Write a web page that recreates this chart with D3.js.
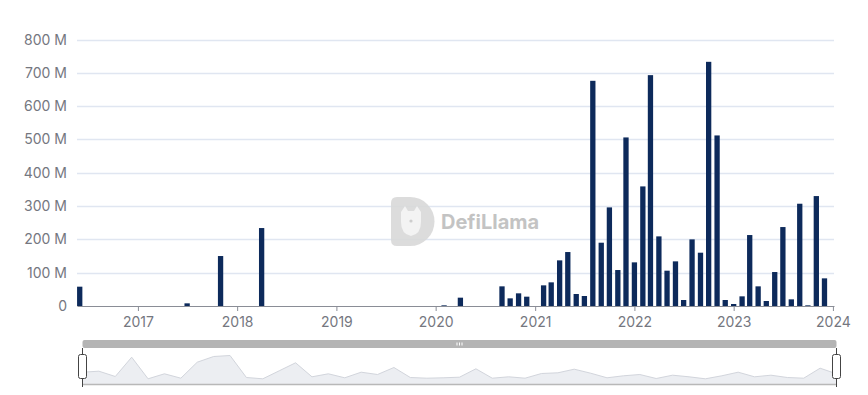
<!DOCTYPE html>
<html>
<head>
<meta charset="utf-8">
<script src="https://cdn.jsdelivr.net/npm/d3@7"></script>
<style>
  body { margin: 0; background: #fff; }
  svg { display: block; font-family: Inter, "Noto Sans", sans-serif; }
</style>
</head>
<body>
<svg id="chart" width="868" height="395"></svg>
<script>
// monthly values (USD), months with nothing are left out
const months = [
  "2016-06", "2017-07", "2017-11", "2018-04",
  "2020-02", "2020-04", "2020-09", "2020-10", "2020-11", "2020-12",
  "2021-02", "2021-03", "2021-04", "2021-05", "2021-06", "2021-07", "2021-08", "2021-09",
  "2021-10", "2021-11", "2021-12", "2022-01", "2022-02", "2022-03", "2022-04", "2022-05",
  "2022-06", "2022-07", "2022-08", "2022-09", "2022-10", "2022-11", "2022-12", "2023-01",
  "2023-02", "2023-03", "2023-04", "2023-05", "2023-06", "2023-07", "2023-08", "2023-09",
  "2023-10", "2023-11", "2023-12"
];
const values = [
  58e6, 8e6, 150e6, 234e6,
  2e6, 25e6, 59e6, 23e6, 38e6, 28e6,
  62e6, 71e6, 137e6, 162e6, 36e6, 30e6, 676e6, 190e6,
  296e6, 108e6, 506e6, 131e6, 359e6, 693e6, 209e6, 106e6,
  134e6, 18e6, 200e6, 160e6, 733e6, 512e6, 18e6, 6e6,
  29e6, 213e6, 59e6, 15e6, 102e6, 237e6, 20e6, 307e6,
  2e6, 330e6, 83e6
];
const yTicks = [0, 100e6, 200e6, 300e6, 400e6, 500e6, 600e6, 700e6, 800e6];
const xTickYears = [2017, 2018, 2019, 2020, 2021, 2022, 2023, 2024];
// slider preview line, relative heights
const shadowValues = [
  12.3, 13.3, 8, 27.3, 5.7, 10.7, 6.3, 22.3, 28, 29, 7, 5.7, 13.7, 21.7, 7.7, 10.7,
  6.7, 12.3, 10, 17, 7, 6.3, 6.7, 7.3, 15.7, 6.3, 7.7, 6.3, 11, 11.7, 15.3, 11.3,
  6.7, 8.7, 10, 6, 9.3, 7.7, 5.7, 8.7, 12.3, 7.7, 9.3, 7, 6.3, 16.3, 10.7
];

const svg = d3.select("#chart");
const margin = { top: 39.5, left: 77, right: 34, bottom: 89 };
const W = 868, H = 395;

const data = months.map((m, i) => ({ date: d3.utcParse("%Y-%m")(m), value: values[i] }));

const x = d3.scaleUtc()
  .domain([new Date(Date.UTC(2016, 4, 22)), new Date(Date.UTC(2024, 0, 5))])
  .range([margin.left, W - margin.right]);
const y = d3.scaleLinear()
  .domain([0, 800e6])
  .range([H - margin.bottom, margin.top]);

// grid + y labels
svg.append("g")
  .selectAll("line")
  .data(yTicks.slice(1))
  .enter()
  .append("line")
  .attr("x1", margin.left)
  .attr("x2", W - margin.right)
  .attr("y1", d => Math.round(y(d)) + 0.5)
  .attr("y2", d => Math.round(y(d)) + 0.5)
  .attr("stroke", "#e0e6f1")
  .attr("stroke-width", 1.5);

svg.append("g")
  .selectAll("text")
  .data(yTicks)
  .enter()
  .append("text")
  .attr("x", 67)
  .attr("y", d => y(d))
  .attr("dy", "0.36em")
  .attr("text-anchor", "end")
  .attr("fill", "#75777f")
  .style("font-size", "14px")
  .text(d => (d === 0 ? "0" : d / 1e6 + " M"));

// watermark
const wm = svg.append("g").attr("opacity", 0.9);
wm.append("path")
  .attr("d", "M391,203 q0,-6 6,-6 h13 a24.5 24.5 0 0 1 0 49 h-13 q-6,0 -6,-6 z")
  .attr("fill", "#d9d9d9");
wm.append("path")
  .attr("d", "M401,212 l4,-6 l3,5 h6 l3,-5 l4,6 v10 q0,12 -10,14 q-10,-2 -10,-14 z")
  .attr("fill", "#f2f2f2");
wm.append("circle").attr("cx", 411).attr("cy", 221).attr("r", 1.6).attr("fill", "#c8c8c8");
wm.append("text")
  .attr("x", 441)
  .attr("y", 229)
  .attr("fill", "#bdbdbd")
  .style("font-size", "20px")
  .style("font-weight", "700")
  .text("DefiLlama");

// bars
const barW = 5.3;
svg.append("g")
  .selectAll("rect")
  .data(data)
  .enter()
  .append("rect")
  .attr("x", d => Math.max(margin.left, x(d.date) - barW / 2))
  .attr("width", d => x(d.date) + barW / 2 - Math.max(margin.left, x(d.date) - barW / 2))
  .attr("y", d => y(d.value))
  .attr("height", d => y(0) - y(d.value))
  .attr("fill", "#0d2a5b");

// x axis
const xAxis = d3.axisBottom(x)
  .tickValues(xTickYears.map(yr => new Date(Date.UTC(yr, 0, 1))))
  .tickFormat(d3.utcFormat("%Y"))
  .tickSizeInner(5)
  .tickSizeOuter(0)
  .tickPadding(6);
const gx = svg.append("g")
  .attr("transform", `translate(0,${y(0)})`)
  .call(xAxis);
gx.select(".domain").attr("stroke", "#8a8d96");
gx.selectAll(".tick line").attr("stroke", "#8a8d96");
gx.selectAll(".tick text")
  .attr("fill", "#75777f")
  .style("font-size", "14px")
  .style("font-family", "Inter, sans-serif");

// slider
const sl = { x0: 82.5, x1: 836.5, top: 348, bottom: 384.5 };
svg.append("rect")
  .attr("x", sl.x0).attr("y", 340)
  .attr("width", sl.x1 - sl.x0).attr("height", 8)
  .attr("rx", 2)
  .attr("fill", "#b4b4b4");
svg.append("g")
  .selectAll("rect")
  .data([0, 1, 2])
  .enter()
  .append("rect")
  .attr("x", i => 456.5 + i * 2.5)
  .attr("y", 342.5)
  .attr("width", 1)
  .attr("height", 3)
  .attr("fill", "#fff");

const sx = d3.scaleLinear().domain([0, shadowValues.length - 1]).range([sl.x0, sl.x1]);
const sy = d3.scaleLinear().domain([0, 36]).range([sl.bottom, sl.bottom - 36]);
svg.append("path")
  .datum(shadowValues)
  .attr("d", d3.area().x((d, i) => sx(i)).y0(sl.bottom).y1(d => sy(d)))
  .attr("fill", "#eceef2");
svg.append("path")
  .datum(shadowValues)
  .attr("d", d3.line().x((d, i) => sx(i)).y(d => sy(d)))
  .attr("fill", "none")
  .attr("stroke", "#d2d5dc")
  .attr("stroke-width", 1);
svg.append("line")
  .attr("x1", sl.x0).attr("x2", sl.x1)
  .attr("y1", sl.bottom).attr("y2", sl.bottom)
  .attr("stroke", "#b8b8b8")
  .attr("stroke-width", 1.5);

[sl.x0, sl.x1].forEach(hx => {
  svg.append("line")
    .attr("x1", hx).attr("x2", hx)
    .attr("y1", 348).attr("y2", 387)
    .attr("stroke", "#444")
    .attr("stroke-width", 1);
  svg.append("rect")
    .attr("x", hx - 4).attr("y", 354.5)
    .attr("width", 8).attr("height", 24)
    .attr("rx", 2)
    .attr("fill", "#fff")
    .attr("stroke", "#444")
    .attr("stroke-width", 1);
});
</script>
</body>
</html>
